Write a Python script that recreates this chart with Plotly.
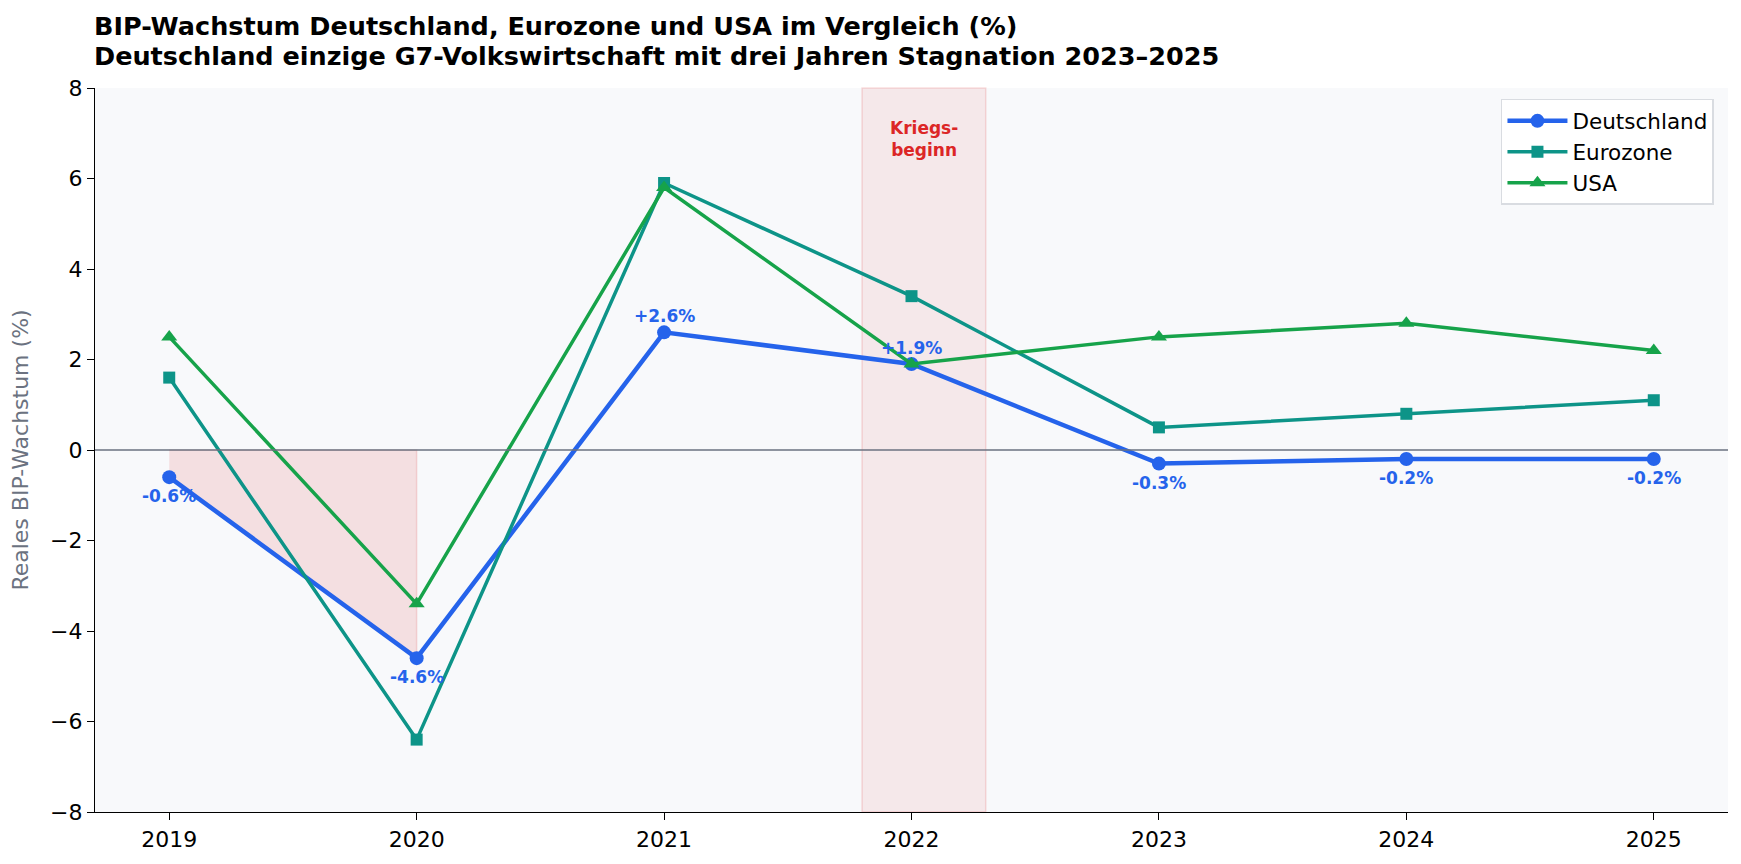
import plotly.graph_objects as go

years = [2019, 2020, 2021, 2022, 2023, 2024, 2025]
deutschland = [-0.6, -4.6, 2.6, 1.9, -0.3, -0.2, -0.2]
eurozone = [1.6, -6.4, 5.9, 3.4, 0.5, 0.8, 1.1]
usa = [2.5, -3.4, 5.8, 1.9, 2.5, 2.8, 2.2]
label_years = [2019, 2020, 2021, 2022, 2023, 2024, 2025]
fill_years = [2019, 2020]
fill_values = [-0.6, -4.6]
war_span = [2021.8, 2022.3]
title_line1 = "BIP-Wachstum Deutschland, Eurozone und USA im Vergleich (%)"
title_line2 = "Deutschland einzige G7-Volkswirtschaft mit drei Jahren Stagnation 2023–2025"

C_DE = "#2563eb"
C_EZ = "#0d9488"
C_US = "#16a34a"
C_RED = "#dc2626"
FONT = "DejaVu Sans"

fig = go.Figure()

# recession fill between 0 and Deutschland line
fig.add_trace(go.Scatter(
    x=fill_years + fill_years[::-1], y=fill_values + [0] * len(fill_years),
    fill="toself", fillcolor="rgba(220,38,38,0.12)",
    line=dict(color="rgba(220,38,38,0.15)", width=1.5),
    mode="lines", showlegend=False, hoverinfo="skip"))

fig.add_vrect(x0=war_span[0], x1=war_span[1], fillcolor="rgba(220,38,38,0.08)",
              line=dict(color="rgba(220,38,38,0.15)", width=1.5), layer="below")

fig.add_hline(y=0, line=dict(color="#6b7280", width=1.5))

fig.add_trace(go.Scatter(x=years, y=deutschland, name="Deutschland", mode="lines+markers",
                         line=dict(color=C_DE, width=4.5), marker=dict(symbol="circle", size=14, color=C_DE)))
fig.add_trace(go.Scatter(x=years, y=eurozone, name="Eurozone", mode="lines+markers",
                         line=dict(color=C_EZ, width=3.5), marker=dict(symbol="square", size=12, color=C_EZ)))
fig.add_trace(go.Scatter(x=years, y=usa, name="USA", mode="lines+markers",
                         line=dict(color=C_US, width=3.5), marker=dict(symbol="triangle-up", size=14, color=C_US)))

for yr, v in zip(years, deutschland):
    if yr not in label_years:
        continue
    txt = f"{v:+.1f}%" if v > 0 else f"{v:.1f}%"
    fig.add_annotation(x=yr, y=v, text=f"<b>{txt}</b>", showarrow=False,
                       yshift=16 if v > 0 else -19,
                       font=dict(family=FONT, size=17, color=C_DE))

fig.add_annotation(x=(war_span[0] + war_span[1]) / 2, y=6.87, text="<b>Kriegs-<br>beginn</b>",
                   showarrow=False, font=dict(family=FONT, size=17, color=C_RED))

fig.add_annotation(xref="paper", yref="paper", x=0, y=1, xanchor="left", yanchor="middle",
                   xshift=-3, yshift=62, showarrow=False, text=f"<b>{title_line1}</b>",
                   font=dict(family=FONT, size=25.5, color="black"))
fig.add_annotation(xref="paper", yref="paper", x=0, y=1, xanchor="left", yanchor="middle",
                   xshift=-3, yshift=32, showarrow=False, text=f"<b>{title_line2}</b>",
                   font=dict(family=FONT, size=25.5, color="black"))

fig.update_layout(
    width=1733, height=856,
    margin=dict(l=85, r=13, t=80, b=52),
    paper_bgcolor="white", plot_bgcolor="#f8f9fb",
    font=dict(family=FONT, size=22, color="black"),
    legend=dict(x=0.9914, xanchor="right", y=0.985, yanchor="top", itemwidth=60,
                bgcolor="rgba(255,255,255,0.9)", bordercolor="#d9dce1", borderwidth=1.5,
                font=dict(family=FONT, size=21.5)),
    xaxis=dict(range=[2018.7, 2025.3], tickvals=years, ticktext=[str(y) for y in years],
               showgrid=False, zeroline=False, showline=True, linecolor="black", linewidth=1.4,
               ticks="outside", ticklen=7, tickcolor="black", tickwidth=1.4, tickfont=dict(size=22)),
    yaxis=dict(range=[-8, 8], tickvals=list(range(-8, 9, 2)), showgrid=False, zeroline=False,
               showline=True, linecolor="black", linewidth=1.4, ticks="outside", ticklen=7,
               tickwidth=1.4, tickcolor="black", tickfont=dict(size=22),
               title=dict(text="Reales BIP-Wachstum (%)", font=dict(size=22, color="#6b7280"), standoff=15)),
)

fig.write_html("out.html")
